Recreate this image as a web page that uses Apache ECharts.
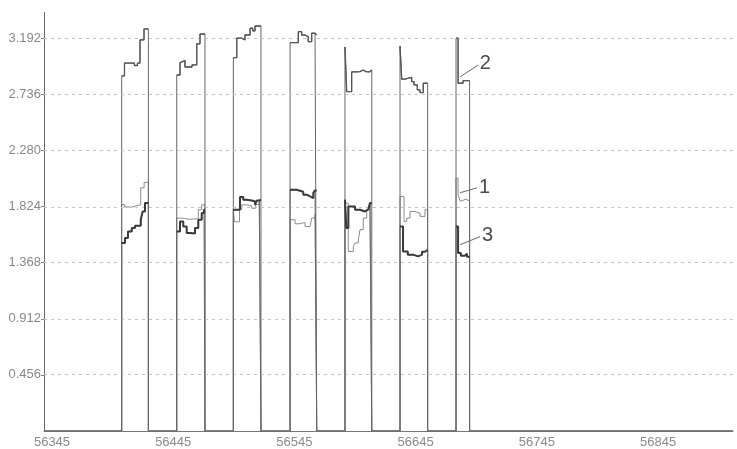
<!DOCTYPE html>
<html><head><meta charset="utf-8">
<script src="https://cdn.jsdelivr.net/npm/echarts@6/dist/echarts.min.js"></script>
<style>html,body{margin:0;padding:0;background:#fff}#c{width:737px;height:449px}</style>
</head><body><div id="c"></div>
<script>
const xTicks = [56345, 56445, 56545, 56645, 56745, 56845];
const yTicks = [0.456, 0.912, 1.368, 1.824, 2.280, 2.736, 3.192];
const xRange = [56338.4, 56906.8];
const yRange = [0, 3.4];

const series2 = [
  [56338.4,0],
  [56402.5,2.886],[56404.8,2.99],[56413,2.97],[56415.5,2.99],[56417.6,3.178],[56420.9,3.267],[56424.5,0],
  [56447.9,2.893],[56450.6,2.994],[56452,3.01],[56454.7,2.958],[56460.5,2.975],[56464.4,3.146],[56467.1,3.226],[56471.2,0],
  [56494.6,3.034],[56497.4,3.192],[56501.5,3.178],[56504.2,3.218],[56508.4,3.273],[56510.6,3.251],[56512.5,3.291],[56517.4,0],
  [56541.4,3.156],[56548.2,3.245],[56551,3.218],[56553.7,3.205],[56556.4,3.164],[56559.2,3.232],[56562,3.218],[56563.4,0],
  [56586.7,3.12],[56588.1,2.758],[56592.2,2.918],[56595,2.92],[56599.1,2.934],[56601.6,2.92],[56604.1,2.918],[56606.8,2.934],[56608.8,0],
  [56632.1,3.129],[56633.5,2.859],[56636.2,2.867],[56639,2.873],[56641.7,2.839],[56643.6,2.812],[56646.4,2.772],[56648.6,2.75],[56651.3,2.826],[56654.9,0],
  [56678.3,3.192],[56680,2.826],[56684.1,2.847],[56689.5,0],
  [56906.8,0]
];
const series1 = [
  [56338.4,0],
  [56402.5,1.84],[56405,1.82],[56411,1.83],[56414,1.838],[56418.2,1.976],[56421,2.02],[56424.5,0],
  [56447.9,1.73],[56452,1.72],[56458,1.725],[56465.7,1.798],[56468.5,1.838],[56471.2,0],
  [56494.6,1.80],[56495.5,1.70],[56499.7,1.80],[56501.5,1.838],[56505.6,1.83],[56509.8,1.81],[56513,1.84],[56516,1.87],[56517.4,0],
  [56541.4,1.717],[56545.5,1.684],[56549.6,1.695],[56553.7,1.662],[56557.9,1.668],[56559.2,1.73],[56562,1.757],[56563.4,0],
  [56586.7,1.852],[56589.4,1.459],[56593.6,1.50],[56595,1.528],[56597.7,1.554],[56599.1,1.636],[56601.8,1.73],[56604.6,1.798],[56607.3,1.838],[56608.8,0],
  [56632.1,1.906],[56635.4,1.703],[56637.6,1.73],[56640.4,1.784],[56644.5,1.771],[56648.6,1.744],[56652.7,1.798],[56654.9,0],
  [56678.3,2.055],[56680,1.92],[56681.6,1.87],[56683.5,1.885],[56686,1.87],[56689.5,0],
  [56906.8,0]
];
const series3 = [
  [56338.4,0],
  [56402.5,1.528],[56405.2,1.568],[56407.7,1.622],[56410.8,1.65],[56413.5,1.668],[56418.2,1.717],[56419.8,1.784],[56421.7,1.852],[56424.5,0],
  [56447.9,1.622],[56450.6,1.703],[56453.3,1.662],[56456.1,1.609],[56458.8,1.605],[56463,1.649],[56465.7,1.717],[56468.5,1.771],[56470.4,1.798],[56471.2,0],
  [56494.6,1.798],[56500.1,1.901],[56502.8,1.879],[56505.6,1.873],[56509.8,1.865],[56512.5,1.838],[56513.9,1.873],[56516,1.879],[56517.4,0],
  [56541.4,1.96],[56546.9,1.944],[56552.3,1.92],[56555.1,1.906],[56557.9,1.893],[56560.6,1.936],[56562,1.955],[56563.4,0],
  [56586.7,1.879],[56587.8,1.65],[56589.5,1.825],[56595,1.798],[56599.1,1.784],[56603.2,1.80],[56605.9,1.81],[56607.3,1.852],[56608.8,0],
  [56632.1,1.662],[56634.6,1.459],[56638.5,1.433],[56642.9,1.419],[56647,1.433],[56650.3,1.457],[56652.7,1.473],[56654.9,0],
  [56678.3,1.662],[56680,1.446],[56682.3,1.425],[56685.6,1.441],[56687.3,1.417],[56689.5,0],
  [56906.8,0]
];
const annotations = [
  {name: '2', from: [56681.6, 2.877], to: [56696.5, 2.974]},
  {name: '1', from: [56681.6, 1.936], to: [56695.7, 1.976]},
  {name: '3', from: [56681.6, 1.514], to: [56698.1, 1.579]}
];

// Plateau-only copy of a series (drops the rising/falling edges), used for the thick overlay.
function plateaus(data) {
  const out = [];
  for (let i = 0; i < data.length; i++) {
    const v = data[i][1];
    if (v === 0) continue;
    out.push(data[i]);
    const next = data[i + 1];
    if (next && next[1] === 0) {
      out.push([next[0], v]);
      out.push([next[0], '-']);
    }
  }
  return out;
}

const chart = echarts.init(document.getElementById('c'), null, {renderer: 'canvas'});
const font = "'Liberation Sans', Arial, sans-serif";
const lineBase = {type: 'line', step: 'end', symbol: 'none', animation: false, silent: true, connectNulls: false};
chart.setOption({
  backgroundColor: '#fff',
  animation: false,
  grid: {left: 44, right: 4, top: 12.6, bottom: 17.5},
  xAxis: {
    type: 'value', min: xRange[0], max: xRange[1],
    axisLine: {show: true, lineStyle: {color: '#777', width: 1}},
    axisTick: {show: false},
    splitLine: {show: false},
    axisLabel: {customValues: xTicks, color: '#8a8a8a', fontSize: 13, fontFamily: font, margin: 5,
      formatter: v => String(Math.round(v))}
  },
  yAxis: {
    type: 'value', min: yRange[0], max: yRange[1],
    axisLine: {show: true, lineStyle: {color: '#666', width: 1}},
    axisTick: {show: true, customValues: yTicks, length: 3, lineStyle: {color: '#888'}},
    splitLine: {show: false},
    axisLabel: {customValues: yTicks, color: '#888', fontSize: 13, fontFamily: font, margin: 3,
      formatter: v => Number(v).toFixed(3)}
  },
  series: [
    Object.assign({}, lineBase, {
      name: 'grid', data: [],
      markLine: {silent: true, symbol: 'none', animation: false, label: {show: false},
        lineStyle: {color: '#c4c4c4', type: [3, 4], width: 1},
        data: yTicks.map(v => ({yAxis: v}))}
    }),
    Object.assign({}, lineBase, {name: '1', data: series1, lineStyle: {color: '#8c8c8c', width: 1}, z: 3}),
    Object.assign({}, lineBase, {name: '2', data: series2, lineStyle: {color: '#666', width: 1}, z: 4,
      markLine: {silent: true, symbol: 'none', animation: false,
        lineStyle: {color: '#6a6a6a', type: 'solid', width: 1},
        label: {show: true, position: 'end', formatter: p => p.name, color: '#4a4a4a', fontSize: 20, fontFamily: font, distance: 2},
        data: annotations.map(a => [{name: a.name, coord: a.from}, {coord: a.to}])}
    }),
    Object.assign({}, lineBase, {name: '3', data: series3, lineStyle: {color: '#666', width: 1}, z: 5}),
    Object.assign({}, lineBase, {name: '3 plateau', data: plateaus(series3), lineStyle: {color: '#3a3a3a', width: 2}, z: 6}),
    Object.assign({}, lineBase, {name: '2 plateau', data: plateaus(series2), lineStyle: {color: '#555', width: 1.3}, z: 6})
  ]
});
</script>
</body></html>
